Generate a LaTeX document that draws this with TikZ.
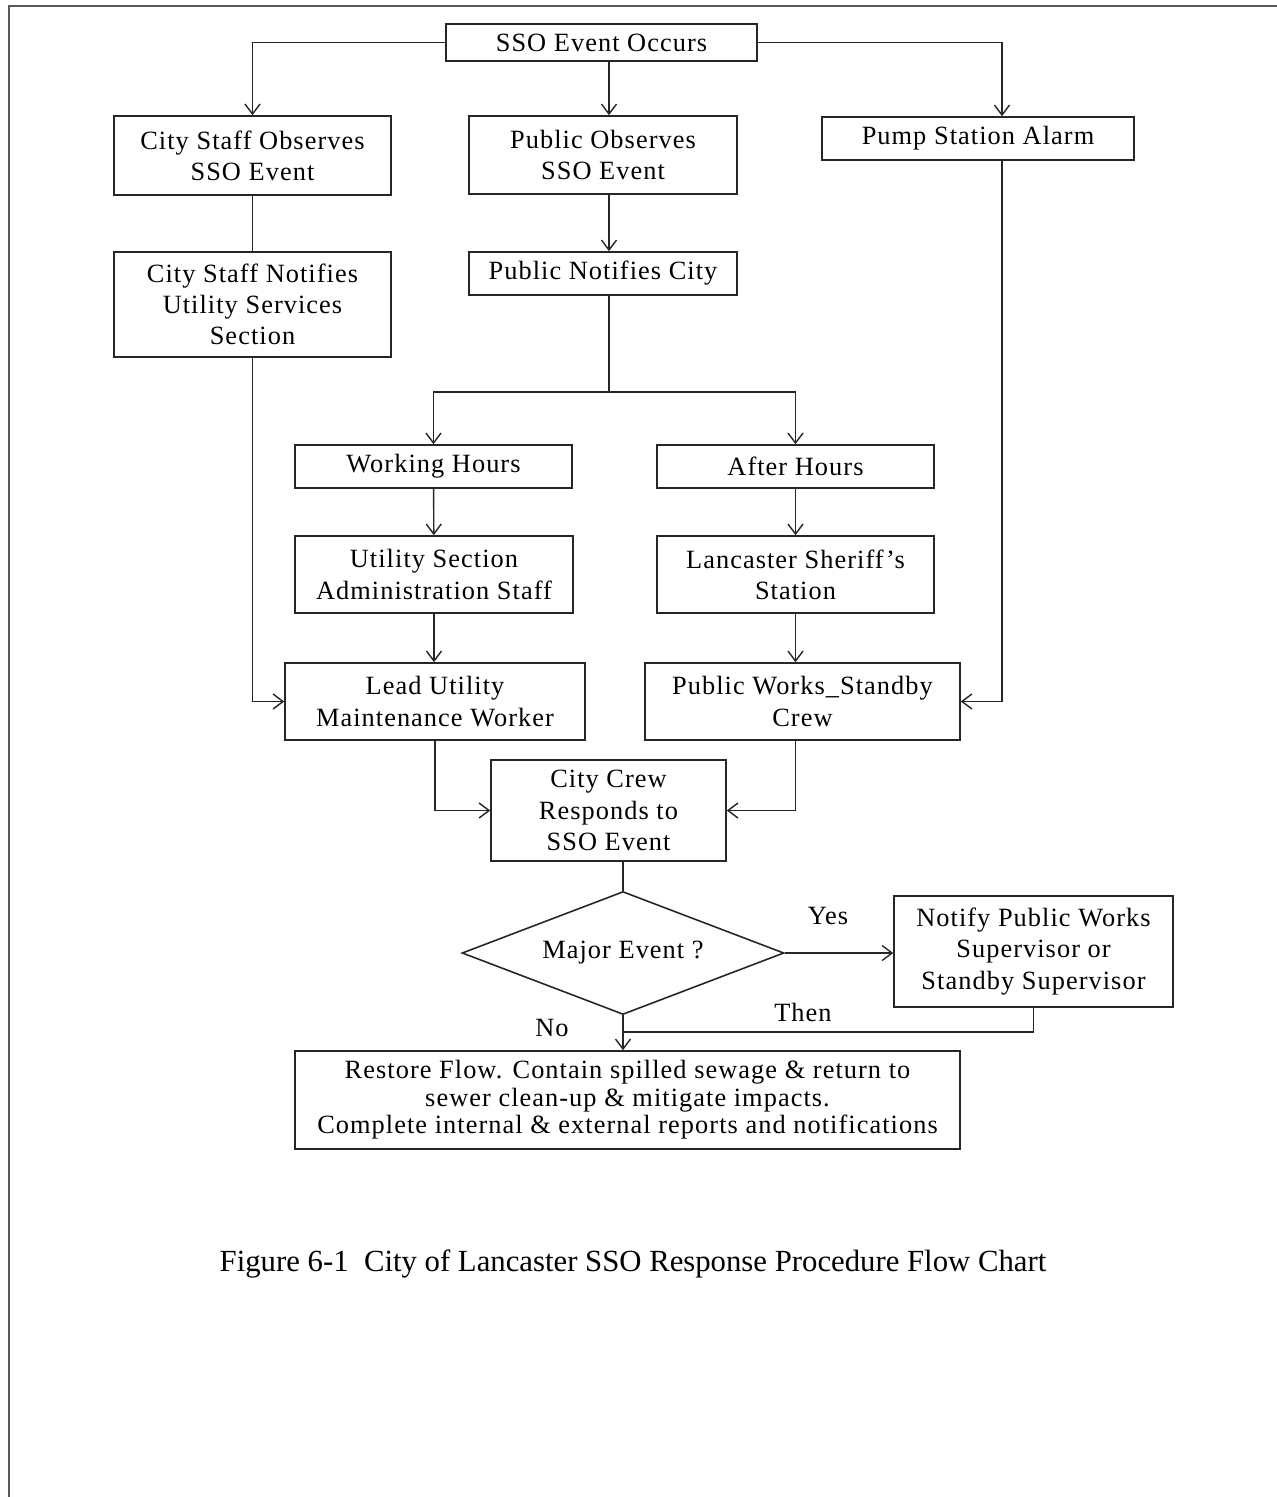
\documentclass[tikz,border=0pt]{standalone}
\usepackage{fontspec}
\setmainfont{Liberation Serif}[LetterSpace=4]
\newfontfamily\capfont{Liberation Serif}
\usetikzlibrary{shapes.geometric,arrows.meta}
\tikzset{
  box/.style={draw=black!85, line width=0.9pt, align=center, inner sep=0pt,
    font=\fontsize{15}{17.8}\selectfont},
  arr/.style={-{Straight Barb[length=2mm,width=3mm]}, line width=0.8pt, draw=black!85},
  ln/.style={line width=0.8pt, draw=black!85},
  lbl/.style={font=\fontsize{15}{17.8}\selectfont}
}
\begin{document}
\begin{tikzpicture}[x=0.02cm,y=-0.02cm]
\useasboundingbox (0,0) rectangle (1277,1497);
\draw[line width=1.1pt, black!65] (1277,6) -- (9,6) -- (9,1497);

\node[box, minimum width=6.22cm, minimum height=0.74cm] (occurs) at (601.5,42.5) {SSO Event Occurs};
\node[box, minimum width=5.54cm, minimum height=1.58cm] (staffobs) at (252.5,155.5) {City Staff Observes\\SSO Event};
\node[box, minimum width=5.36cm, minimum height=1.56cm] (pubobs) at (603,155) {Public Observes\\SSO Event};
\node[box, minimum width=6.24cm, minimum height=0.86cm] (alarm) at (978,138.5) {Pump Station Alarm};
\node[box, minimum width=5.54cm, minimum height=2.10cm] (staffnot) at (252.5,304.5) {City Staff Notifies\\Utility Services\\Section};
\node[box, minimum width=5.36cm, minimum height=0.86cm] (pubnot) at (603,273.5) {Public Notifies City};
\node[box, minimum width=5.54cm, minimum height=0.86cm] (work) at (433.5,466.5) {Working Hours};
\node[box, minimum width=5.54cm, minimum height=0.86cm] (after) at (795.5,466.5) {After Hours};
\node[box, minimum width=5.56cm, minimum height=1.54cm] (admin) at (434,574.5) {Utility Section\\Administration Staff};
\node[box, minimum width=5.54cm, minimum height=1.54cm] (sheriff) at (795.5,574.5) {Lancaster Sheriff's\\Station};
\node[box, minimum width=6.00cm, minimum height=1.54cm] (lead) at (435,701.5) {Lead Utility\\Maintenance Worker};
\node[box, minimum width=6.30cm, minimum height=1.54cm] (standby) at (802.5,701.5) {Public Works\_Standby\\Crew};
\node[box, minimum width=4.70cm, minimum height=2.02cm] (crew) at (608.5,810.5) {City Crew\\Responds to\\SSO Event};
\node[box, diamond, shape aspect=2.62, minimum width=6.44cm, minimum height=2.46cm] (major) at (623,953) {Major Event ?};
\node[box, minimum width=5.58cm, minimum height=2.22cm] (notify) at (1033.5,951.5) {Notify Public Works\\Supervisor or\\Standby Supervisor};
\node[box, minimum width=13.30cm, minimum height=1.96cm, font=\fontsize{15}{15.6}\selectfont] (restore) at (627.5,1100) {Restore Flow. Contain spilled sewage \& return to\\sewer clean-up \& mitigate impacts.\\Complete internal \& external reports and notifications};

\node[lbl] (yes) at (828,916) {Yes};
\node[lbl] (then) at (803,1012) {Then};
\node[lbl] (no) at (552,1028) {No};
\node[font=\capfont\fontsize{17.5}{21}\selectfont] (caption) at (633,1264) {Figure 6-1\ \ City of Lancaster SSO Response Procedure Flow Chart};

\coordinate (split) at (609,392);
\coordinate (alarmline) at (1002,160);
\coordinate (join) at (623,1032);

\draw[arr] (occurs.west) -| (staffobs.north);
\draw[arr] (occurs.east) -| (alarmline |- alarm.north);
\draw[arr] (occurs.south -| split) -- (pubobs.north -| split);
\draw[ln] (staffobs) -- (staffnot);
\draw[arr] (pubobs.south -| split) -- (pubnot.north -| split);
\draw[ln] (pubnot.south -| split) -- (split);
\draw[arr] (split) -| (work.north);
\draw[arr] (split) -| (after.north);
\draw[arr] (work) -- (admin);
\draw[arr] (after) -- (sheriff);
\draw[arr] (admin) -- (admin.south |- lead.north);
\draw[arr] (sheriff) -- (sheriff.south |- standby.north);
\draw[arr] (staffnot.south) |- (lead.west);
\draw[arr] (alarmline) |- (standby.east);
\draw[arr] (lead.south) |- (crew.west);
\draw[arr] (standby.south -| sheriff) |- (crew.east);
\draw[ln] (crew.south -| major) -- (major.north);
\draw[arr] (major.east) -- (major.east -| notify.west);
\draw[ln] (notify.south) |- (join);
\draw[arr] (major.south) -- (major.south |- restore.north);
\end{tikzpicture}
\end{document}
